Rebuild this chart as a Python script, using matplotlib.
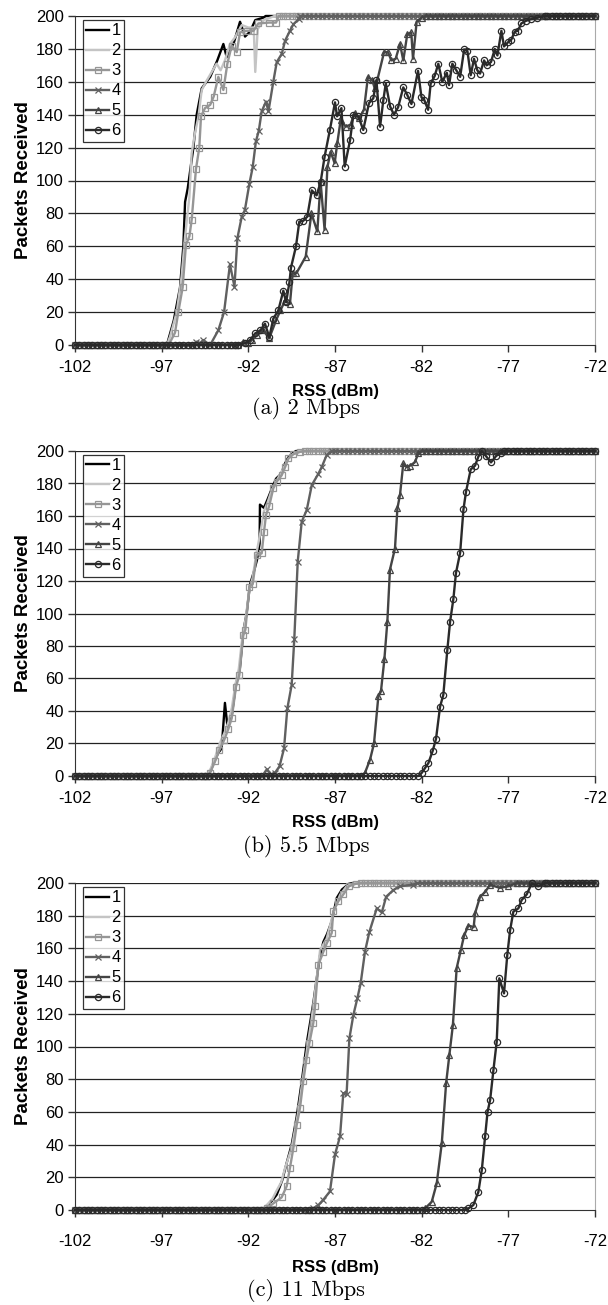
import numpy as np
import matplotlib
matplotlib.use('Agg')
import matplotlib.pyplot as plt

plt.rcParams['font.family'] = ['Liberation Sans', 'DejaVu Sans']
plt.rcParams['axes.unicode_minus'] = False

# measurement sweep (dBm) used for the flat parts of every curve
rss_start, rss_stop, rss_step = -102, -72, 0.25
xticks = [-102, -97, -92, -87, -82, -77, -72]
yticks = [0, 20, 40, 60, 80, 100, 120, 140, 160, 180, 200]
labels = ['1', '2', '3', '4', '5', '6']
captions = ['(a) 2 Mbps', '(b) 5.5 Mbps', '(c) 11 Mbps']

# ---- (a) 2 Mbps : rising part of each curve (x in dBm, y packets) ----
a1_x = [-96.7, -96.3, -95.94, -95.75, -95.65, -95.5, -95.17, -94.98, -94.69, -94.2, -93.79,
        -93.44, -93.25, -93.06, -92.83, -92.48, -92.19, -91.9, -91.6, -91.13]
a1_y = [0, 15, 35, 60, 87, 95, 120, 140, 156, 163, 173, 183, 175, 179, 184, 196.5, 187.5,
        190.5, 197.5, 199]
a2_x = [-96.7, -96.52, -96.13, -95.85, -95.65, -95.4, -95.27, -95.08, -94.88, -94.69, -94.44,
        -94.11, -93.83, -93.6, -93.35, -93.06, -92.77, -92.38, -92.0, -91.69, -91.6, -91.46,
        -91.13, -90.6]
a2_y = [0, 5, 20, 41.6, 66, 90, 116.5, 128.7, 138.8, 155, 160, 166, 171, 167, 173, 183, 187,
        194.5, 193, 193, 166, 192, 197.5, 199.5]
a3_x = [-96.6, -96.23, -96.04, -95.79, -95.6, -95.4, -95.27, -95.02, -94.83, -94.73, -94.5,
        -94.2, -94.0, -93.73, -93.44, -93.21, -92.96, -92.67, -92.48, -92.1, -91.7, -91.42,
        -90.8, -90.4]
a3_y = [0, 7.5, 20, 35, 61, 66, 76, 107, 120, 139, 144, 146, 151, 163, 155, 171, 182, 178,
        190, 191, 191, 195.5, 196, 196]
a4_x = [-95.2, -95.0, -94.8, -94.6, -94.2, -93.73, -93.4, -93.06, -92.8, -92.63, -92.38, -92.2,
        -91.94, -91.75, -91.56, -91.4, -91.23, -90.98, -90.84, -90.56, -90.36, -90.07, -89.88,
        -89.6, -89.4, -89.1]
a4_y = [0, 2, 1, 3, 0, 9, 20, 49, 35.5, 65, 78, 82, 98, 108, 124, 130, 142, 148, 142, 160, 172,
        177, 185, 191, 195, 198]
a5_x = [-92.6, -92.3, -92.0, -91.8, -91.5, -91.14, -90.8, -90.4, -90.15, -89.88, -89.6, -89.44,
        -89.23, -88.69, -88.36, -88.02, -87.83, -87.6, -87.44, -87.25, -87.02, -86.87, -86.67,
        -86.38, -86.1, -85.87, -85.6, -85.33, -85.1, -84.85, -84.71, -84.56, -84.17, -83.94,
        -83.75, -83.5, -83.25, -83.06, -82.83, -82.6, -82.5, -82.29, -82.0]
a5_y = [0, 2, 1, 3, 6, 9, 4, 15, 21, 27, 25, 43.6, 43.6, 53.7, 80, 69, 99, 70, 108, 117.5,
        110.5, 122.6, 137, 132.7, 134, 141, 138, 143, 163, 161, 156, 161, 178, 178, 173, 174,
        183, 173, 189, 190, 174, 196.5, 199]
a6_x = [-92.6, -92.2, -91.9, -91.61, -91.3, -91.04, -90.79, -90.56, -90.27, -89.98, -89.82,
        -89.63, -89.54, -89.25, -89.06, -88.83, -88.6, -88.34, -88.06, -87.83, -87.6, -87.29,
        -87.0, -86.88, -86.63, -86.44, -86.13, -85.94, -85.65, -85.37, -85.04, -84.79, -84.61,
        -84.4, -84.21, -84.07, -83.82, -83.6, -83.36, -83.06, -82.83, -82.59, -82.21, -82.01,
        -81.85, -81.63, -81.48, -81.25, -81.04, -80.81, -80.55, -80.42, -80.23, -80.0, -79.78,
        -79.55, -79.36, -79.17, -78.98, -78.79, -78.63, -78.4, -78.25, -78.0, -77.78, -77.63,
        -77.4, -77.25, -77.02, -76.83, -76.63, -76.45, -76.25, -76.0, -75.72, -75.33, -74.9]
a6_y = [0, 1, 3, 7, 9, 13, 4.7, 16, 21, 33, 26, 38, 47, 60, 75, 75.5, 78, 94, 91, 99, 114.5,
        131, 147.5, 139, 144, 108.5, 124.6, 140, 139, 130.7, 147, 150, 161, 132.7, 149, 159,
        145, 140, 144.5, 156.6, 152, 146.5, 166.7, 150.5, 149, 143, 159, 163.5, 171, 160,
        165.5, 158, 171, 167, 163, 179.7, 178.6, 164, 174, 167, 165, 173, 170, 172, 180, 176,
        191, 181.5, 184, 185.6, 190.5, 191, 195.5, 197, 198, 199, 200]

# ---- (b) 5.5 Mbps ----
b1_x = [-94.3, -94.0, -93.75, -93.54, -93.35, -93.2, -92.96, -92.71, -92.5, -92.29, -92.1,
        -91.9, -91.7, -91.5, -91.35, -91.33, -91.1, -90.9, -90.6, -90.4, -90.1, -89.9, -89.7,
        -89.4]
b1_y = [0, 8, 14, 17, 45, 30, 37, 57, 65, 89, 100, 118, 125, 133, 143, 167, 165, 170, 178,
        183, 186, 192, 196, 199]
b2_x = [-94.4, -94.15, -93.9, -93.65, -93.4, -93.15, -92.95, -92.75, -92.55, -92.35, -92.15,
        -91.95, -91.75, -91.55, -91.3, -91.1, -90.9, -90.65, -90.4, -90.15, -89.9, -89.7,
        -89.45, -89.1]
b2_y = [0, 5, 12, 20, 26, 33, 42, 56, 66, 85, 97, 114, 122, 136, 150, 163, 168, 176, 181,
        186, 191, 195, 198, 200]
b3_x = [-94.4, -94.21, -93.92, -93.67, -93.4, -93.15, -92.96, -92.71, -92.52, -92.29, -92.17,
        -91.94, -91.75, -91.52, -91.23, -91.1, -90.98, -90.8, -90.56, -90.37, -90.08, -89.88,
        -89.69, -89.4, -89.0]
b3_y = [0, 2, 9, 16, 22, 29, 35.5, 55, 62, 87, 90, 116.5, 118, 136, 137, 150, 160.6, 166, 177,
        181, 185, 190, 195.5, 198, 199.5]
b4_x = [-91.2, -90.94, -90.7, -90.46, -90.2, -89.94, -89.75, -89.5, -89.35, -89.15, -88.92,
        -88.63, -88.34, -87.96, -87.77, -87.48, -87.2]
b4_y = [0, 4, 1, 2, 6, 17, 41.6, 56, 84, 132, 156.5, 163.7, 179, 186, 190, 197.5, 200]
b5_x = [-85.5, -85.27, -84.98, -84.75, -84.5, -84.35, -84.15, -83.98, -83.83, -83.54, -83.4,
        -83.25, -83.06, -82.85, -82.67, -82.4, -82.19]
b5_y = [0, 2, 10, 20, 49, 52, 72, 95, 127, 140, 164.7, 173, 192.4, 190, 191, 193, 198.5]
b6_x = [-82.2, -81.99, -81.8, -81.61, -81.36, -81.17, -80.94, -80.75, -80.52, -80.36, -80.17,
        -80.02, -79.78, -79.59, -79.44, -79.17, -78.92, -78.73, -78.54, -78.3, -78.0, -77.7,
        -77.4]
b6_y = [0, 2, 5, 8, 15.6, 23, 42.6, 50, 77.5, 95, 109, 125, 137.4, 164, 175, 188.7, 191, 196.5,
        200, 197, 193, 197, 199]

# ---- (c) 11 Mbps ----
c1_x = [-91.2, -90.9, -90.6, -90.36, -90.05, -89.79, -89.5, -89.21, -88.9, -88.63, -88.25,
        -88.05, -87.86, -87.67, -87.45, -87.19, -86.9, -86.6, -86.2]
c1_y = [0, 3, 6, 9.4, 18, 28.7, 40, 57, 80, 102, 126.6, 142, 156, 164, 169, 176.6, 190.8, 196,
        199.5]
c2_x = [-91.2, -90.85, -90.6, -90.36, -90.1, -89.88, -89.5, -89.12, -88.9, -88.63, -88.34,
        -88.1, -87.86, -87.48, -87.1, -86.71, -86.33, -85.9]
c2_y = [0, 4, 7, 12, 17, 25.7, 38, 60, 77, 97, 117.4, 137.8, 159, 166, 181.6, 192.7, 198, 200]
c3_x = [-91.1, -90.94, -90.56, -90.08, -89.79, -89.6, -89.4, -89.21, -89.02, -88.83, -88.65,
        -88.48, -88.25, -88.15, -87.96, -87.67, -87.48, -87.19, -87.1, -86.81, -86.52, -86.2,
        -85.8]
c3_y = [0, 1, 4, 7.7, 14.5, 25.7, 38, 52, 62.4, 78.7, 92, 102, 114.4, 124.6, 150, 158, 163,
        169.4, 182.7, 188.8, 193, 198, 199.5]
c4_x = [-88.6, -88.25, -87.96, -87.67, -87.29, -87.0, -86.71, -86.52, -86.33, -86.17, -85.94,
        -85.71, -85.52, -85.27, -85.02, -84.59, -84.3, -84.05, -83.63, -83.25, -82.5]
c4_y = [0, 1, 3, 6.3, 11.4, 34, 45, 71.5, 71, 105, 119.3, 129.5, 138.6, 158, 170, 184.5, 182,
        191.6, 195.7, 198, 199]
c5_x = [-82.0, -81.8, -81.42, -81.13, -80.84, -80.59, -80.4, -80.2, -79.98, -79.74, -79.55,
        -79.3, -79.0, -78.92, -78.63, -78.34, -78.05, -77.5, -77.0, -76.5]
c5_y = [0, 1, 5, 16.3, 40.8, 77.5, 95, 113, 148, 159, 168, 174, 173, 181.5, 191.6, 194.5, 199,
        197, 198, 200]
c6_x = [-79.5, -79.3, -79.02, -78.73, -78.53, -78.34, -78.2, -78.05, -77.86, -77.67, -77.52,
        -77.25, -77.06, -76.9, -76.71, -76.42, -76.23, -75.94, -75.65, -75.27, -74.9]
c6_y = [0, 1, 3, 11, 24.5, 45, 60, 67.3, 85.6, 103, 141.7, 132.5, 156, 171, 182.5, 184.5,
        189.6, 193, 199.8, 198, 200]

panels = [
    [(a1_x, a1_y), (a2_x, a2_y), (a3_x, a3_y), (a4_x, a4_y), (a5_x, a5_y), (a6_x, a6_y)],
    [(b1_x, b1_y), (b2_x, b2_y), (b3_x, b3_y), (b4_x, b4_y), (b5_x, b5_y), (b6_x, b6_y)],
    [(c1_x, c1_y), (c2_x, c2_y), (c3_x, c3_y), (c4_x, c4_y), (c5_x, c5_y), (c6_x, c6_y)],
]

styles = [
    dict(color='#000000', marker=None),
    dict(color='#c4c4c4', marker=None),
    dict(color='#969696', marker='s', mfc='none'),
    dict(color='#606060', marker='x'),
    dict(color='#444444', marker='^', mfc='none'),
    dict(color='#2a2a2a', marker='o', mfc='none'),
]

grid = np.arange(rss_start, rss_stop + 0.001, rss_step)


def full_curve(xs, ys):
    # flat floor (0) before the rise, flat ceiling (200) after it
    lo = grid[grid < xs[0] - 0.05]
    hi = grid[grid > xs[-1] + 0.05]
    x = np.concatenate([lo, xs, hi])
    y = np.concatenate([np.zeros(len(lo)), ys, np.full(len(hi), 200.0)])
    return x, y


W, H = 608, 1305
fig = plt.figure(figsize=(W / 100, H / 100), dpi=100)

# pixel rows of y=200 and y=0 for each panel
boxes = [(16, 345), (451, 776), (883, 1210)]
tick_pad = [6, 6, 12]
xlab_pad = [6, 6, 8]
cap_off = [64, 71, 81]
left_px, right_px = 75, 595

for k, (top, bot) in enumerate(boxes):
    ax = fig.add_axes([left_px / W, 1 - bot / H, (right_px - left_px) / W, (bot - top) / H])
    for i, (xs, ys) in enumerate(panels[k]):
        x, y = full_curve(xs, ys)
        st = styles[i]
        ax.plot(x, y, color=st['color'], lw=1.7, marker=st['marker'], ms=4.5,
                mfc=st.get('mfc', st['color']), mec=st['color'], mew=0.9,
                label=labels[i], zorder=3 + i, clip_on=False)
    ax.set_xlim(-102, -72)
    ax.set_ylim(0, 200)
    ax.set_xticks(xticks)
    ax.set_yticks(yticks)
    ax.tick_params(axis='both', labelsize=12, direction='out', length=5, width=1,
                   color='#333333')
    ax.tick_params(axis='x', pad=tick_pad[k])
    ax.tick_params(axis='y', pad=3)
    for y in yticks[1:]:
        ax.axhline(y, color='#222222', lw=0.9, zorder=1)
    ax.spines['left'].set_color('#333333')
    ax.spines['bottom'].set_color('#333333')
    ax.spines['top'].set_visible(False)
    ax.spines['right'].set_color('#aaaaaa')
    ax.set_ylabel('Packets Received', fontsize=13.5, fontweight='bold', labelpad=3)
    ax.set_xlabel('RSS (dBm)', fontsize=12, fontweight='bold', labelpad=xlab_pad[k])
    leg = ax.legend(loc='upper left', bbox_to_anchor=(8 / 520, 1 - 4 / (bot - top)),
                    borderaxespad=0, fontsize=12, frameon=True, fancybox=False,
                    edgecolor='black', handlelength=1.35, handletextpad=0.15,
                    labelspacing=0.3, borderpad=0.2)
    leg.get_frame().set_linewidth(0.9)
    leg.set_zorder(20)
    fig.text(306 / W, 1 - (bot + cap_off[k]) / H, captions[k], family='cmr10', fontsize=16,
             ha='center', va='center')

fig.savefig('out.png', dpi=100)
